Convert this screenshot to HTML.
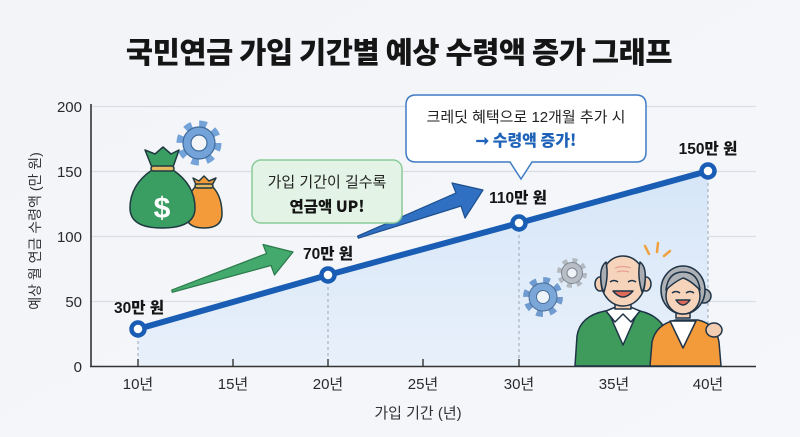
<!DOCTYPE html>
<html><head><meta charset="utf-8"><style>
html,body{margin:0;padding:0;background:#f3f5f9;}
svg{display:block;}
text{font-family:"Liberation Sans","Noto Sans CJK KR",sans-serif;}
.k{font-family:"Noto Sans CJK KR","Liberation Sans",sans-serif;}
</style></head><body>
<svg width="800" height="437" viewBox="0 0 800 437" xmlns="http://www.w3.org/2000/svg">
<defs>
<linearGradient id="bg" x1="0" y1="0" x2="1" y2="1">
<stop offset="0" stop-color="#f2f4f8"/><stop offset="1" stop-color="#f5f7fa"/>
</linearGradient>
<linearGradient id="area" x1="0" y1="0" x2="0" y2="1">
<stop offset="0" stop-color="#d6e6f8"/><stop offset="1" stop-color="#e8f0fa"/>
</linearGradient>
</defs>
<rect width="800" height="437" fill="url(#bg)"/>

<!-- title -->
<text x="399" y="63" text-anchor="middle" class="k" font-size="29.5" font-weight="900" fill="#151515" letter-spacing="-0.4">국민연금 가입 기간별 예상 수령액 증가 그래프</text>

<!-- grid -->
<g stroke="#d9dde4" stroke-width="1.2">
<line x1="91" y1="106.5" x2="756" y2="106.5"/>
<line x1="91" y1="171.5" x2="756" y2="171.5"/>
<line x1="91" y1="236.5" x2="756" y2="236.5"/>
<line x1="91" y1="301.5" x2="756" y2="301.5"/>
</g>

<!-- area -->
<polygon points="138,329 328,275 519,223 708,171 708,366 138,366" fill="url(#area)"/>

<!-- dashed verticals -->
<g stroke="#9aa6b6" stroke-width="1" stroke-dasharray="3,3">
<line x1="138" y1="335" x2="138" y2="366"/>
<line x1="328" y1="281" x2="328" y2="366"/>
<line x1="519" y1="229" x2="519" y2="366"/>
<line x1="708" y1="177" x2="708" y2="366"/>
</g>

<!-- axes -->
<line x1="91" y1="104" x2="91" y2="367" stroke="#333" stroke-width="1.6"/>
<line x1="90" y1="366.5" x2="756" y2="366.5" stroke="#333" stroke-width="1.6"/>
<g stroke="#333" stroke-width="1.4">
<line x1="138" y1="359" x2="138" y2="366"/>
<line x1="233" y1="359" x2="233" y2="366"/>
<line x1="328" y1="359" x2="328" y2="366"/>
<line x1="423" y1="359" x2="423" y2="366"/>
<line x1="519" y1="359" x2="519" y2="366"/>
<line x1="614" y1="359" x2="614" y2="366"/>
<line x1="708" y1="359" x2="708" y2="366"/>
</g>

<!-- y labels -->
<g font-size="15" fill="#2a2a2a" text-anchor="end">
<text x="82" y="112">200</text>
<text x="82" y="177">150</text>
<text x="82" y="242">100</text>
<text x="82" y="307">50</text>
<text x="82" y="372">0</text>
</g>
<text transform="translate(40,231) rotate(-90)" text-anchor="middle" font-size="14" fill="#333">예상 월 연금 수령액 (만 원)</text>

<!-- x labels -->
<g font-size="15" fill="#2a2a2a" text-anchor="middle">
<text x="138" y="389">10년</text>
<text x="233" y="389">15년</text>
<text x="328" y="389">20년</text>
<text x="423" y="389">25년</text>
<text x="519" y="389">30년</text>
<text x="614" y="389">35년</text>
<text x="708" y="389">40년</text>
</g>
<text x="418" y="418" text-anchor="middle" font-size="15" fill="#333">가입 기간 (년)</text>

<!-- gears near people -->
<g transform="translate(543,297)">
<circle r="16" fill="none" stroke="#6f9bd0" stroke-width="8" stroke-dasharray="6.3,6.27"/>
<circle r="14" fill="#7aa6d8" stroke="#4a6f98" stroke-width="1"/>
<circle r="6.5" fill="#eef3f9" stroke="#4a6f98" stroke-width="1"/>
</g>
<g transform="translate(572,273)">
<circle r="12" fill="none" stroke="#b3b9c1" stroke-width="6" stroke-dasharray="4.7,4.72"/>
<circle r="10.5" fill="#b8bec6" stroke="#7f8791" stroke-width="1"/>
<circle r="5" fill="#eef3f9" stroke="#7f8791" stroke-width="1"/>
</g>

<!-- people -->
<g stroke="#1f3447" stroke-width="1.5" stroke-linejoin="round">
<g stroke="#f0a040" stroke-width="2.5" stroke-linecap="round">
<line x1="645" y1="246" x2="649" y2="254"/>
<line x1="658" y1="243" x2="657" y2="252"/>
<line x1="670" y1="251" x2="664" y2="256"/>
</g>
<path d="M575,366 L577,336 Q580,316 605,311 L640,311 Q662,316 668,336 L668,366 Z" fill="#3e9b5c"/>
<path d="M608,311 L623,345 L638,311 Z" fill="#fff"/>
<path d="M606,311 L615,322 L623,314 L631,322 L640,311 L623,304 Z" fill="#fff"/>
<rect x="615" y="297" width="16" height="12" fill="#f3cdb2"/>
<ellipse cx="600" cy="284" rx="5" ry="7" fill="#f3cdb2"/>
<ellipse cx="646" cy="284" rx="5" ry="7" fill="#f3cdb2"/>
<ellipse cx="623" cy="281" rx="22" ry="25" fill="#f6d4bb"/>
<path d="M602,288 Q598,268 606,262 Q609,276 604,292 Z" fill="#a9adb2"/>
<path d="M644,288 Q648,268 640,262 Q637,276 642,292 Z" fill="#a9adb2"/>
<path d="M610,282 q4,-3 8,0 M628,282 q4,-3 8,0" fill="none"/>
<path d="M613,291 Q623,303 633,291 Z" fill="#e06a5a"/>
<path d="M615,268 q8,-3 16,0 M617,272 q6,-2 12,0" fill="none" stroke="#e8a090" stroke-width="1.2"/>
<path d="M650,366 L652,342 Q656,324 676,320 L698,320 Q716,324 719,342 L721,366 Z" fill="#f39a3b"/>
<path d="M670,321 L683,348 L696,321 Z" fill="#fff"/>
<ellipse cx="714" cy="330" rx="8" ry="7" fill="#f3cdb2"/>
<rect x="676" y="306" width="14" height="12" fill="#f3cdb2"/>
<circle cx="704" cy="296" r="7" fill="#a9adb2"/>
<ellipse cx="683" cy="290" rx="22" ry="24" fill="#aeb1b6"/>
<ellipse cx="683" cy="296" rx="17" ry="18" fill="#f6d4bb"/>
<path d="M666,290 Q668,272 683,272 Q698,272 700,290 Q690,280 683,278 Q674,282 666,290 Z" fill="#aeb1b6"/>
<path d="M672,293 q4,-3 8,0 M686,293 q4,-3 8,0" fill="none"/>
<path d="M676,300 Q683,310 690,300 Z" fill="#e06a5a"/>
</g>

<!-- data line -->
<polyline points="138,329 328,275 519,223 708,171" fill="none" stroke="#1a5db4" stroke-width="6" stroke-linejoin="round" stroke-linecap="round"/>
<g fill="#fff" stroke="#1a5db4" stroke-width="4.5">
<circle cx="138" cy="329" r="6.5"/>
<circle cx="328" cy="275" r="6.5"/>
<circle cx="519" cy="223" r="6.5"/>
<circle cx="708" cy="171" r="6.5"/>
</g>

<!-- arrows -->
<polygon points="171.7,290 266.5,253.5 263,244.5 293,252 274.5,275 271,265.5 172.3,292.3" fill="#43a96d" stroke="#2b7a4b" stroke-width="1.2" stroke-linejoin="round"/>
<polygon points="357.6,236.1 456,193 452,183 483,190 465,218 461,206 358.4,238.2" fill="#2f70c2" stroke="#1e4f8e" stroke-width="1.2" stroke-linejoin="round"/>

<!-- point labels -->
<g font-size="15.5" font-weight="900" fill="#151515" text-anchor="middle" class="k">
<text x="139" y="313">30만 원</text>
<text x="328" y="259">70만 원</text>
<text x="518" y="203">110만 원</text>
<text x="708" y="154">150만 원</text>
</g>

<!-- money bags & gear -->
<g transform="translate(199,143)">
<circle r="18" fill="none" stroke="#74a3d9" stroke-width="9" stroke-dasharray="7.07,7.07"/>
<circle r="16" fill="#74a3d9" stroke="#3f6b9c" stroke-width="1.2"/>
<circle r="8" fill="#f3f5f9" stroke="#3f6b9c" stroke-width="1.2"/>
</g>
<g stroke="#1f3a40" stroke-width="1.5" stroke-linejoin="round">
<path d="M196,186 Q186,196 186,214 Q186,228 204,228 Q222,228 222,214 Q222,196 212,186 Z" fill="#f39a3b"/>
<path d="M193,178 L199,181 L204,176 L209,181 L216,178 L211,187 L197,187 Z" fill="#f39a3b"/>
<rect x="195" y="184" width="18" height="4" rx="2" fill="#e6b860"/>
<path d="M152,170 Q130,185 130,208 Q130,228 162,228 Q195,228 195,208 Q195,185 173,170 Z" fill="#3a9e63"/>
<path d="M145,150 L155,154 L163,147 L171,154 L179,150 L172,170 L153,170 Z" fill="#3a9e63"/>
<rect x="151" y="166" width="23" height="5" rx="2.5" fill="#e6b860"/>
</g>
<text x="162" y="218" text-anchor="middle" font-size="30" font-weight="700" fill="#fff">$</text>

<!-- green callout -->
<rect x="252" y="160" width="150" height="63" rx="9" fill="#e3f3e6" stroke="#8acb98" stroke-width="1.5"/>
<text x="327" y="187" text-anchor="middle" font-size="15" fill="#222">가입 기간이 길수록</text>
<text x="327" y="212" text-anchor="middle" font-size="15.5" font-weight="900" fill="#151515" class="k">연금액 UP!</text>

<!-- blue callout -->
<path d="M416,95 H636 Q646,95 646,105 V152 Q646,162 636,162 H532 L521,179 L510,162 H416 Q406,162 406,152 V105 Q406,95 416,95 Z" fill="#ffffff" stroke="#3f7cc4" stroke-width="1.5"/>
<text x="526" y="122" text-anchor="middle" font-size="15" fill="#222">크레딧 혜택으로 12개월 추가 시</text>
<text x="526" y="146" text-anchor="middle" font-size="16" font-weight="900" fill="#1f63b8" class="k">➞ 수령액 증가!</text>
</svg>
</body></html>
